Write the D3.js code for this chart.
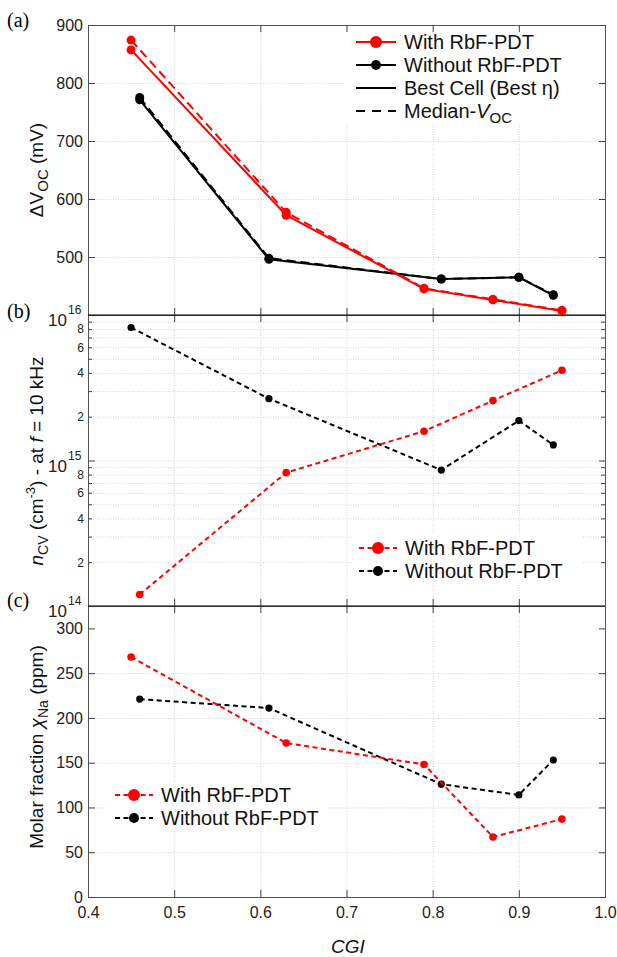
<!DOCTYPE html>
<html>
<head>
<meta charset="utf-8">
<script src="https://cdn.jsdelivr.net/npm/d3@7"></script>
<style>
    body { margin: 0; background: #fff; }
    svg { display: block; font-family: "Liberation Sans", Arial, sans-serif; }
</style>
</head>
<body>
<svg id="chart" width="617" height="957"></svg>
<script>
// ---- data ----
const cgiTicks = [0.4, 0.5, 0.6, 0.7, 0.8, 0.9, 1.0];

// (a) delta Voc
const cgiWithA = [0.45, 0.63, 0.79, 0.87, 0.95];
const dvocWithBest = [857, 572, 445, 426, 407];
const dvocWithMedian = [874, 577, 446, 427, 408];
const cgiWithoutA = [0.46, 0.61, 0.81, 0.90, 0.94];
const dvocWithoutBest = [771, 496, 462, 465, 434];
const dvocWithoutMedian = [775, 498, 462, 465, 435];
const dvocTicks = [400, 500, 600, 700, 800, 900];

// (b) n_CV at 10 kHz
const cgiWithB = [0.46, 0.63, 0.79, 0.87, 0.95];
const ncvWith = [1.2e14, 8.25e14, 1.59e15, 2.58e15, 4.17e15];
const cgiWithoutB = [0.45, 0.61, 0.81, 0.90, 0.94];
const ncvWithout = [8.2e15, 2.66e15, 8.6e14, 1.88e15, 1.28e15];
const ncvMajor = [1e14, 1e15, 1e16];
const ncvMinorMant = [2, 3, 4, 5, 6, 7, 8, 9];
const ncvMinorLabels = [2, 4, 6, 8];

// (c) Na molar fraction
const cgiWithC = [0.45, 0.63, 0.79, 0.87, 0.95];
const naWith = [268, 172, 148, 67, 87];
const cgiWithoutC = [0.46, 0.61, 0.81, 0.90, 0.94];
const naWithout = [221, 211, 126, 114, 153];
const naTicks = [0, 50, 100, 150, 200, 250, 300];

const RED = "#ff0000", BLACK = "#000";
const svg = d3.select("#chart");

const x = d3.scaleLinear().domain([0.4, 1.0]).range([88, 605]);
const yA = d3.scaleLinear().domain([400, 900]).range([315, 25]);
const yB = d3.scaleLog().domain([1e14, 1e16]).range([606, 315]);
const yC = d3.scaleLinear().domain([0, 325]).range([897, 606]);

const ncvMinor = [];
[1e14, 1e15].forEach(d => ncvMinorMant.forEach(m => ncvMinor.push(m * d)));

function zip(xs, ys) { return xs.map((v, i) => [v, ys[i]]); }

// ---- gridlines ----
function grid(y, yVals, top, bottom) {
    const g = svg.append("g").attr("class", "grid");
    g.append("g")
        .attr("transform", "translate(0," + bottom + ")")
        .call(d3.axisBottom(x).tickValues(cgiTicks.slice(1, -1)).tickSize(-(bottom - top)).tickFormat(""));
    g.append("g")
        .attr("transform", "translate(" + x.range()[0] + ",0)")
        .call(d3.axisLeft(y).tickValues(yVals).tickSize(-(x.range()[1] - x.range()[0])).tickFormat(""));
    g.selectAll("path.domain").remove();
    g.selectAll("line").attr("stroke", "#c8c8c8").attr("stroke-width", 0.8).attr("stroke-dasharray", "1,1.5");
}
grid(yA, [500, 600, 700, 800], 25, 315);
grid(yB, ncvMinor.concat([1e15]), 315, 606);
grid(yC, naTicks.slice(1, -1), 606, 897);

// white legend boxes hide the grid
svg.append("rect").attr("x", 345).attr("y", 28).attr("width", 255).attr("height", 96).attr("fill", "#fff");
svg.append("rect").attr("x", 352).attr("y", 535).attr("width", 230).attr("height", 48).attr("fill", "#fff");
svg.append("rect").attr("x", 108).attr("y", 782).attr("width", 220).attr("height", 48).attr("fill", "#fff");

// ---- frames and ticks ----
function frame(y, top, bottom, yTicks, labelY, showX) {
    const g = svg.append("g");
    const [x0, x1] = x.range();
    g.append("g").attr("transform", "translate(0," + top + ")")
        .call(d3.axisTop(x).tickValues(cgiTicks).tickSize(-7).tickFormat(""));
    const bx = g.append("g").attr("transform", "translate(0," + bottom + ")")
        .call(d3.axisBottom(x).tickValues(cgiTicks).tickSize(-7).tickPadding(8)
            .tickFormat(showX ? d3.format(".1f") : ""));
    g.append("g").attr("transform", "translate(" + x0 + ",0)")
        .call(d3.axisLeft(y).tickValues(yTicks).tickSize(-7).tickPadding(5)
            .tickFormat(d => labelY(d) ? d : ""));
    g.append("g").attr("transform", "translate(" + x1 + ",0)")
        .call(d3.axisRight(y).tickValues(yTicks).tickSize(-6).tickFormat(""));
    g.selectAll("path.domain").attr("stroke", "#555");
    g.selectAll(".tick line").attr("stroke", "#444");
    g.selectAll("text").attr("font-size", 16).attr("fill", "#222").attr("font-family", "Liberation Sans, Arial, sans-serif");
    bx.selectAll("text").attr("dy", "0.8em");
    return g;
}
frame(yA, 25, 315, dvocTicks, d => d > 400, false);
const fb = frame(yB, 315, 606, ncvMajor, () => false, false);
frame(yC, 606, 897, naTicks, () => true, true);

// log minor ticks and labels
fb.append("g").attr("transform", "translate(" + x.range()[0] + ",0)")
    .call(d3.axisLeft(yB).tickValues(ncvMinor).tickSize(-4).tickPadding(4)
        .tickFormat(d => {
            const m = Math.round(d / Math.pow(10, Math.floor(Math.log10(d) + 1e-9)));
            return ncvMinorLabels.includes(m) ? m : "";
        }))
    .call(g => g.select("path.domain").remove())
    .call(g => g.selectAll("text").attr("font-size", 12).attr("fill", "#222"))
    .call(g => g.selectAll("line").attr("stroke", "#444"));
fb.append("g").attr("transform", "translate(" + x.range()[1] + ",0)")
    .call(d3.axisRight(yB).tickValues(ncvMinor).tickSize(-4).tickFormat(""))
    .call(g => g.select("path.domain").remove())
    .call(g => g.selectAll("line").attr("stroke", "#444"));
ncvMajor.forEach(v => {
    svg.append("text").attr("x", 67).attr("y", yB(v) + 11)
        .attr("text-anchor", "end").attr("font-size", 17).attr("fill", "#222").text("10");
    svg.append("text").attr("x", 68).attr("y", yB(v) - 1)
        .attr("font-size", 12).attr("fill", "#222").text(Math.round(Math.log10(v)));
});

// panel dividers
[315, 606].forEach(yy => svg.append("line").attr("x1", x.range()[0]).attr("x2", x.range()[1])
    .attr("y1", yy).attr("y2", yy).attr("stroke", "#000").attr("stroke-width", 1.2));

// ---- series ----
function series(y, pts, color, dash, width, r) {
    const line = d3.line().x(d => x(d[0])).y(d => y(d[1]));
    svg.append("path").datum(pts).attr("d", line)
        .attr("fill", "none").attr("stroke", color).attr("stroke-width", width)
        .attr("stroke-dasharray", dash);
    svg.append("g").selectAll("circle").data(pts).join("circle")
        .attr("cx", d => x(d[0])).attr("cy", d => y(d[1])).attr("r", r).attr("fill", color);
}
series(yA, zip(cgiWithoutA, dvocWithoutMedian), BLACK, "9,5", 2, 4.5);
series(yA, zip(cgiWithoutA, dvocWithoutBest), BLACK, null, 2, 4.5);
series(yA, zip(cgiWithA, dvocWithMedian), RED, "9,5", 2, 4.5);
series(yA, zip(cgiWithA, dvocWithBest), RED, null, 2, 4.5);

series(yB, zip(cgiWithoutB, ncvWithout), BLACK, "5,3.5", 2, 3.6);
series(yB, zip(cgiWithB, ncvWith), RED, "5,3.5", 2, 3.8);

series(yC, zip(cgiWithoutC, naWithout), BLACK, "5,3.5", 2, 3.6);
series(yC, zip(cgiWithC, naWith), RED, "5,3.5", 2, 3.8);

// ---- legends ----
function legendRow(x0, x1, yy, color, dash, r, label, marker) {
    svg.append("line").attr("x1", x0).attr("x2", x1).attr("y1", yy).attr("y2", yy)
        .attr("stroke", color).attr("stroke-width", 2).attr("stroke-dasharray", dash);
    if (marker) svg.append("circle").attr("cx", (x0 + x1) / 2).attr("cy", yy).attr("r", r).attr("fill", color);
    const t = svg.append("text").attr("x", x1 + 8).attr("y", yy).attr("dy", "0.36em")
        .attr("font-size", 20).attr("fill", "#111");
    if (typeof label === "string") t.text(label); else label(t);
}
legendRow(356, 396, 42, RED, null, 6, "With RbF-PDT", true);
legendRow(356, 396, 65, BLACK, null, 5, "Without RbF-PDT", true);
legendRow(356, 396, 88, BLACK, null, 0, "Best Cell (Best \u03b7)", false);
legendRow(356, 396, 111, BLACK, "9,7", 0, t => {
    t.append("tspan").text("Median-");
    t.append("tspan").attr("font-style", "italic").text("V");
    t.append("tspan").attr("font-size", 15).attr("dy", 5).text("OC");
}, false);

legendRow(359, 397, 548, RED, "5,3.5", 6, "With RbF-PDT", true);
legendRow(359, 397, 571, BLACK, "5,3.5", 5, "Without RbF-PDT", true);
legendRow(115, 153, 795, RED, "5,3.5", 6, "With RbF-PDT", true);
legendRow(115, 153, 818, BLACK, "5,3.5", 5, "Without RbF-PDT", true);

// ---- axis titles ----
function yTitle(cy, build) {
    const t = svg.append("text").attr("transform", "translate(43," + cy + ") rotate(-90)")
        .attr("text-anchor", "middle").attr("font-size", 19).attr("fill", "#111");
    build(t);
}
yTitle(170, t => {
    t.append("tspan").text("\u0394V");
    t.append("tspan").attr("font-size", 15).attr("dy", 5).text("OC");
    t.append("tspan").attr("dy", -5).text(" (mV)");
});
yTitle(461, t => {
    t.append("tspan").attr("font-style", "italic").text("n");
    t.append("tspan").attr("font-size", 14).attr("dy", 5).text("CV");
    t.append("tspan").attr("dy", -5).text(" (cm");
    t.append("tspan").attr("font-size", 13).attr("dy", -8).text("-3");
    t.append("tspan").attr("dy", 8).text(") - at ");
    t.append("tspan").attr("font-style", "italic").text("f");
    t.append("tspan").text(" = 10 kHz");
});
yTitle(747, t => {
    t.append("tspan").text("Molar fraction ");
    t.append("tspan").attr("font-style", "italic").text("\u03c7");
    t.append("tspan").attr("font-size", 14).attr("dy", 5).text("Na");
    t.append("tspan").attr("dy", -5).text(" (ppm)");
});

svg.append("text").attr("x", 348).attr("y", 953).attr("text-anchor", "middle")
    .attr("font-size", 19).attr("font-style", "italic").attr("fill", "#111").text("CGI");

// panel letters
[["(a)", 27], ["(b)", 318], ["(c)", 607]].forEach(([s, yy]) =>
    svg.append("text").attr("x", 7).attr("y", yy).attr("font-family", "Liberation Serif, Times New Roman, serif")
        .attr("font-size", 20).attr("fill", "#000").text(s));
</script>
</body>
</html>
